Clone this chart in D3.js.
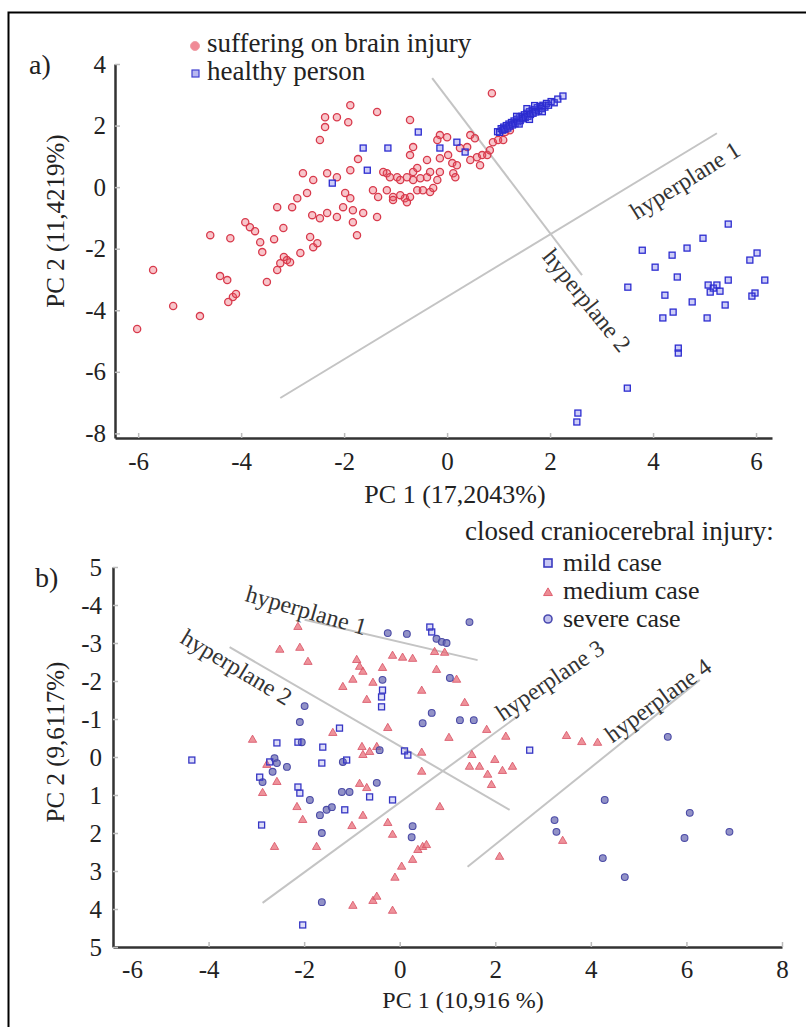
<!DOCTYPE html>
<html>
<head>
<meta charset="utf-8">
<script src="https://cdn.jsdelivr.net/npm/d3@7"></script>
<style>
  html, body { margin: 0; padding: 0; background: #fff; }
  svg { display: block; }
  svg text { font-family: "Liberation Serif", "Times New Roman", serif; }
</style>
</head>
<body>
<svg id="fig" width="806" height="1027"></svg>
<script>
// ---------- Panel a) : PCA of brain-injury vs healthy subjects ----------
const aXTicks = [-6, -4, -2, 0, 2, 4, 6];
const aYTicks = [-8, -6, -4, -2, 0, 2, 4];

const aInjured = [
  [-6.02,-4.61],[-5.71,-2.69],[-5.32,-3.86],[-4.80,-4.19],[-4.60,-1.56],[-4.21,-1.66],
  [-4.41,-2.89],[-4.27,-3.02],[-4.25,-3.73],[-4.16,-3.57],[-4.10,-3.47],[-3.92,-1.14],
  [-3.83,-1.30],[-3.73,-1.43],[-3.63,-1.79],[-3.59,-2.11],[-3.50,-3.08],[-3.36,-1.69],
  [-3.18,-1.33],[-3.30,-2.69],[-3.24,-2.47],[-3.11,-2.37],[-3.17,-2.27],[-3.05,-2.44],
  [-2.85,-2.14],[-2.66,-1.62],[-2.60,-1.95],[-2.52,-1.82],[-3.30,-0.65],[-3.01,-0.65],
  [-2.91,-0.36],[-2.72,-0.19],[-2.80,0.45],[-2.60,0.23],[-2.62,-0.91],[-2.47,-1.01],
  [-2.33,-0.84],[-2.14,-0.97],[-1.83,-1.14],[-1.75,-1.56],[-1.63,-0.84],[-1.36,-0.97],
  [-2.02,-0.65],[-1.83,-0.75],[-1.98,-0.19],[-1.88,-0.36],[-2.33,0.45],[-2.14,0.32],
  [-1.88,0.55],[-2.47,1.53],[-2.37,1.95],[-2.37,2.27],[-2.14,2.27],[-1.92,2.11],
  [-1.88,2.66],[-1.36,2.44],[-1.73,0.91],[-0.72,2.18],[-1.44,-0.10],[-1.34,-0.32],
  [-1.17,0.45],[-0.97,0.32],[-1.05,-0.32],[-0.82,-0.36],[-0.66,0.23],[-0.58,-0.10],
  [-1.24,0.49],[-1.11,0.32],[-0.91,0.23],[-0.78,0.32],[-0.66,0.49],[-0.58,0.62],
  [-0.52,0.29],[-0.39,0.32],[-0.33,0.49],[-0.19,0.23],[-0.14,0.49],[-1.17,-0.10],
  [-0.91,-0.26],[-0.72,-0.32],[-0.78,-0.49],[-1.05,-0.42],[-0.47,-0.10],[-0.33,-0.16],
  [-0.27,-0.03],[0.12,0.45],[0.16,0.32],[-0.14,1.69],[0.00,1.62],[-0.19,1.53],
  [0.45,1.69],[0.54,1.59],[0.39,1.30],[0.25,1.27],[-0.66,1.30],[-0.72,1.04],
  [-0.39,0.88],[-0.14,0.94],[0.02,1.04],[0.10,0.78],[0.19,0.71],[0.45,0.88],
  [0.58,0.97],[0.68,1.04],[0.78,1.04],[0.89,1.46],[0.99,1.53],[1.09,1.53],
  [0.87,3.05],[0.64,0.71],[0.83,1.20],[1.13,1.79],[1.22,1.85]
];

const aHealthy = [
  [-1.63,1.27],[-1.15,1.27],[-0.56,1.79],[-1.55,0.55],[-2.23,0.13],[0.35,1.14],
  [-0.14,1.27],[0.19,1.46],
  [0.98,1.80],[1.02,1.78],[1.05,1.90],[1.08,1.85],[1.10,1.95],[1.12,1.88],[1.15,2.00],
  [1.18,1.92],[1.20,2.05],[1.22,1.98],[1.25,2.10],[1.27,2.02],[1.30,2.15],[1.32,2.06],
  [1.35,2.20],[1.37,2.12],[1.40,2.25],[1.42,2.16],[1.45,2.30],[1.47,2.22],[1.50,2.35],
  [1.52,2.26],[1.55,2.40],[1.57,2.30],[1.60,2.45],[1.62,2.36],[1.65,2.50],[1.67,2.40],
  [1.70,2.52],[1.72,2.44],[1.75,2.58],[1.78,2.48],[1.80,2.62],[1.83,2.55],[1.86,2.66],
  [1.90,2.60],[1.93,2.72],[1.97,2.66],[2.02,2.78],[2.08,2.74],[2.15,2.86],[2.25,2.96],
  [1.55,2.55],[1.35,2.30],[1.60,2.20],[1.40,2.05],[1.70,2.65],[1.85,2.45],
  [5.46,-1.20],[4.97,-1.66],[4.66,-1.98],[4.37,-2.21],[3.79,-2.05],[4.04,-2.60],
  [6.02,-2.14],[5.88,-2.37],[6.17,-3.02],[5.98,-3.44],[5.92,-3.54],[4.47,-2.92],
  [5.07,-3.18],[5.17,-3.28],[5.24,-3.18],[5.30,-3.38],[5.11,-3.41],[5.46,-3.02],
  [5.40,-3.83],[4.23,-3.51],[4.39,-4.06],[4.19,-4.25],[4.76,-3.73],[5.05,-4.25],
  [3.51,-3.25],[4.49,-5.23],[4.49,-5.39],[3.50,-6.53],[2.54,-7.34],[2.52,-7.63]
];

// separating hyperplanes (segment end points) and their labels
const aPlanes = [
  { name: "hyperplane 1", from: [-3.24,-6.85], to: [5.24,1.75], at: [4.62,0.23],  angle: -32 },
  { name: "hyperplane 2", from: [-0.29,3.54],  to: [2.62,-2.86], at: [2.72,-3.67], angle: 51 }
];

// ---------- Panel b) : closed craniocerebral injury severity ----------
const bXTicks = [-6, -4, -2, 0, 2, 4, 6, 8];
const bYTicks = [-5, -4, -3, -2, -1, 0, 1, 2, 3, 4, 5];
const bYTickLabels = ["5", "-4", "-3", "-2", "-1", "0", "1", "2", "3", "4", "5"];

const bMild = [
  [-4.35,0.08],[-2.72,0.13],[-1.63,0.16],[-1.11,0.08],[-2.93,0.53],[-2.13,0.79],
  [-2.09,0.95],[-2.89,1.79],[-1.15,1.39],[-0.63,1.05],[-0.15,1.13],[-2.03,4.42],
  [-2.13,-0.39],[-2.57,-0.37],[-1.61,-0.26],[-1.26,-0.76],[-0.38,-1.32],[-0.36,-1.76],
  [-0.38,-1.58],[0.63,-3.42],[0.67,-3.29],[2.72,-0.18],[0.10,-0.16],[0.17,-0.05]
];

const bMedium = [
  [-2.13,-3.42],[-2.51,-2.82],[-2.09,-2.87],[-1.92,-2.50],[-0.90,-2.55],[-0.84,-2.37],
  [-0.77,-2.24],[-1.19,-1.84],[-0.98,-2.03],[-0.56,-1.95],[-0.36,-2.34],[-0.69,-1.50],
  [-0.25,-0.76],[-1.40,-0.63],[-3.08,-0.45],[-2.78,0.21],[-0.77,-0.05],[-0.63,-0.13],
  [-2.57,0.66],[-2.87,0.95],[-2.15,1.32],[-2.03,1.66],[-2.62,2.37],[-1.74,2.37],
  [-0.84,0.71],[-0.69,0.82],[-1.00,1.82],[-0.77,1.55],[-0.25,1.74],[-0.15,2.05],
  [-0.98,3.92],[-0.56,3.79],[-0.48,3.68],[-0.15,4.05],[0.48,2.37],[0.38,2.45],
  [0.56,2.32],[0.27,2.71],[0.04,2.89],[-0.10,3.18],[0.84,1.32],[1.51,-0.05],
  [1.46,0.26],[1.67,0.26],[1.99,0.08],[2.15,0.37],[2.36,0.26],[1.84,0.47],
  [1.92,0.74],[0.46,0.39],[0.46,-0.11],[2.09,2.63],[3.41,2.21],[3.49,-0.55],
  [3.81,-0.39],[4.14,-0.37],[-0.15,-2.66],[0.06,-2.61],[0.27,-2.58],[0.73,-2.76],
  [0.94,-2.74],[0.77,-2.29],[0.46,-1.74],[1.36,-1.42],[1.82,-0.71],[2.22,-0.53],
  [1.03,-0.50],[1.19,-2.03],[-0.48,-0.26],[-0.79,-0.26]
];

const bSevere = [
  [-2.62,0.03],[-2.57,0.16],[-2.66,0.39],[-2.36,0.26],[-1.19,0.13],[-2.87,0.66],
  [-1.88,1.13],[-1.67,1.53],[-1.53,1.39],[-1.42,1.32],[-1.21,0.92],[-1.05,0.92],
  [-0.48,0.68],[0.27,1.82],[0.25,2.11],[-1.63,2.00],[-1.63,3.82],[-2.05,-0.39],
  [-2.09,-0.92],[-1.99,-1.34],[-0.36,-2.03],[-0.25,-3.26],[0.15,-3.24],[1.46,-3.55],
  [0.77,-3.11],[0.88,-3.03],[0.98,-3.00],[1.05,-2.08],[0.67,-1.16],[0.48,-0.89],
  [1.26,-0.97],[1.55,-0.97],[-0.42,-0.18],[3.24,1.66],[3.28,1.97],[4.25,2.66],
  [4.29,1.13],[4.71,3.16],[6.07,1.47],[5.96,2.13],[6.90,1.97],[5.61,-0.53]
];

const bPlanes = [
  { name: "hyperplane 1", from: [-1.99,-3.61], to: [1.63,-2.55], at: [-1.95,-3.87], angle: 16 },
  { name: "hyperplane 2", from: [-3.56,-2.89], to: [2.30,1.39],  at: [-3.41,-2.37], angle: 31 },
  { name: "hyperplane 3", from: [-2.87,3.84],  to: [2.51,-1.11], at: [3.14,-2.03],  angle: -34 },
  { name: "hyperplane 4", from: [1.42,2.89],   to: [6.28,-2.03], at: [5.40,-1.50],  angle: -36 }
];

// ---------- drawing ----------
const svg = d3.select("#fig");
const plain = d => String(d);   // ASCII hyphen for negatives

// frame around the figure
svg.append("path")
  .attr("d", "M8.5,1027 V12.5 H806")
  .attr("fill", "none").attr("stroke", "#000").attr("stroke-width", 2);

function styleAxis(g) {
  g.attr("font-family", null);
  g.select(".domain").attr("stroke", "#333").attr("stroke-width", 2.5);
  g.selectAll(".tick line").attr("stroke", "#bbb").attr("stroke-width", 1.5);
  g.selectAll(".tick text").attr("font-size", 25).attr("fill", "#222");
}

function drawPlanes(g, planes, x, y) {
  g.selectAll("line.plane").data(planes).join("line")
    .attr("class", "plane")
    .attr("x1", d => x(d.from[0])).attr("y1", d => y(d.from[1]))
    .attr("x2", d => x(d.to[0])).attr("y2", d => y(d.to[1]))
    .attr("stroke", "#c4c4c4").attr("stroke-width", 2);
  g.selectAll("text.plane").data(planes).join("text")
    .attr("class", "plane")
    .attr("transform", d => `translate(${x(d.at[0])},${y(d.at[1])}) rotate(${d.angle})`)
    .attr("text-anchor", "middle").attr("dy", "0.35em")
    .attr("font-size", 24).attr("fill", "#333")
    .text(d => d.name);
}

// ----- panel a -----
const xA = d3.scaleLinear().domain([-6.45, 6.31]).range([115, 772]);
const yA = d3.scaleLinear().domain([-8.15, 4]).range([438, 64]);
const gA = svg.append("g");

gA.append("g").attr("transform", "translate(0,438)")
  .call(d3.axisBottom(xA).tickValues(aXTicks).tickFormat(plain)
    .tickSizeInner(-5).tickSizeOuter(0).tickPadding(14))
  .call(styleAxis);
gA.append("g").attr("transform", "translate(115,0)")
  .call(d3.axisLeft(yA).tickValues(aYTicks).tickFormat(plain)
    .tickSizeInner(-5).tickSizeOuter(0).tickPadding(9))
  .call(styleAxis);

drawPlanes(gA, aPlanes, xA, yA);

gA.append("g").selectAll("circle").data(aInjured).join("circle")
  .attr("cx", d => xA(d[0])).attr("cy", d => yA(d[1])).attr("r", 3.6)
  .attr("fill", "rgba(236,90,104,0.35)").attr("stroke", "#d83a4c").attr("stroke-width", 1.3);

gA.append("g").selectAll("rect").data(aHealthy).join("rect")
  .attr("x", d => xA(d[0]) - 3).attr("y", d => yA(d[1]) - 3)
  .attr("width", 6).attr("height", 6)
  .attr("fill", "rgba(90,90,230,0.3)").attr("stroke", "#2c2cd0").attr("stroke-width", 1.3);

// axis titles and panel tag
gA.append("text").attr("x", 455).attr("y", 503).attr("text-anchor", "middle")
  .attr("font-size", 26).attr("fill", "#222").text("PC 1 (17,2043%)");
gA.append("text").attr("transform", "translate(55,221) rotate(-90)")
  .attr("text-anchor", "middle").attr("dy", "0.35em").attr("font-size", 25)
  .attr("fill", "#222").text("PC 2 (11,4219%)");
gA.append("text").attr("x", 29).attr("y", 74).attr("font-size", 28)
  .attr("fill", "#222").text("a)");

// legend a
const legA = gA.append("g").attr("fill", "#222");
legA.append("circle").attr("cx", 195).attr("cy", 46).attr("r", 4.5)
  .attr("fill", "#f08a96").attr("stroke", "#f0a0a8");
legA.append("text").attr("x", 207).attr("y", 52).attr("font-size", 27)
  .text("suffering on brain injury");
legA.append("rect").attr("x", 192).attr("y", 70).attr("width", 7).attr("height", 7)
  .attr("fill", "#b8b8f0").attr("stroke", "#4040d0").attr("stroke-width", 1.2);
legA.append("text").attr("x", 207).attr("y", 80).attr("font-size", 27)
  .text("healthy person");

// ----- panel b -----
const xB = d3.scaleLinear().domain([-6, 8]).range([113, 782]);
const yB = d3.scaleLinear().domain([-5, 5]).range([567, 947]);
const gB = svg.append("g");

const bxAxis = gB.append("g").attr("transform", "translate(0,947)")
  .call(d3.axisBottom(xB).tickValues(bXTicks).tickFormat(plain)
    .tickSizeInner(-5).tickSizeOuter(0).tickPadding(13))
  .call(styleAxis);
bxAxis.selectAll(".tick text").filter(d => d === -6).attr("dx", 19);

gB.append("g").attr("transform", "translate(113,0)")
  .call(d3.axisLeft(yB).tickValues(bYTicks).tickFormat((d, i) => bYTickLabels[i])
    .tickSizeInner(-5).tickSizeOuter(0).tickPadding(11))
  .call(styleAxis);

drawPlanes(gB, bPlanes, xB, yB);

gB.append("g").selectAll("path").data(bMedium).join("path")
  .attr("transform", d => `translate(${xB(d[0])},${yB(d[1])})`)
  .attr("d", d3.symbol(d3.symbolTriangle, 30))
  .attr("fill", "rgba(232,110,120,0.75)").attr("stroke", "#d85064").attr("stroke-width", 0.8);

gB.append("g").selectAll("circle").data(bSevere).join("circle")
  .attr("cx", d => xB(d[0])).attr("cy", d => yB(d[1])).attr("r", 3.4)
  .attr("fill", "rgba(100,100,175,0.7)").attr("stroke", "#4a4aa6").attr("stroke-width", 1.1);

gB.append("g").selectAll("rect").data(bMild).join("rect")
  .attr("x", d => xB(d[0]) - 3).attr("y", d => yB(d[1]) - 3)
  .attr("width", 6).attr("height", 6)
  .attr("fill", "rgba(90,90,220,0.2)").attr("stroke", "#3636c4").attr("stroke-width", 1.3);

gB.append("text").attr("x", 463).attr("y", 1008).attr("text-anchor", "middle")
  .attr("font-size", 24).attr("fill", "#222").text("PC 1 (10,916 %)");
gB.append("text").attr("transform", "translate(55,742) rotate(-90)")
  .attr("text-anchor", "middle").attr("dy", "0.35em").attr("font-size", 25)
  .attr("fill", "#222").text("PC 2 (9,6117%)");
gB.append("text").attr("x", 35).attr("y", 587).attr("font-size", 28)
  .attr("fill", "#222").text("b)");

// legend b
const legB = gB.append("g").attr("fill", "#222");
legB.append("text").attr("x", 465).attr("y", 540).attr("font-size", 27)
  .text("closed craniocerebral injury:");
legB.append("rect").attr("x", 544).attr("y", 559).attr("width", 8).attr("height", 8)
  .attr("fill", "#c8c8f4").attr("stroke", "#3a3ac0").attr("stroke-width", 1.6);
legB.append("text").attr("x", 563).attr("y", 571).attr("font-size", 26).text("mild case");
legB.append("path").attr("transform", "translate(548,593)")
  .attr("d", d3.symbol(d3.symbolTriangle, 34))
  .attr("fill", "#ec8c94").attr("stroke", "#e06070");
legB.append("text").attr("x", 563).attr("y", 599).attr("font-size", 26).text("medium case");
legB.append("circle").attr("cx", 548).attr("cy", 619).attr("r", 4)
  .attr("fill", "#c0c0ec").attr("stroke", "#4a4ab0").attr("stroke-width", 1.6);
legB.append("text").attr("x", 563).attr("y", 627).attr("font-size", 26).text("severe case");
</script>
</body>
</html>
